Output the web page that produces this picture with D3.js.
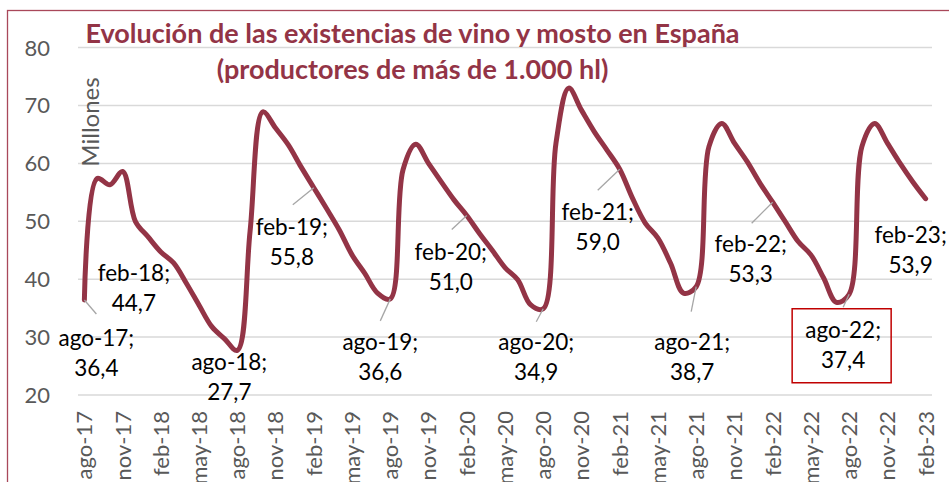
<!DOCTYPE html>
<html>
<head>
<meta charset="utf-8">
<script src="https://cdn.jsdelivr.net/npm/d3@7"></script>
<style>
  body { margin: 0; background: #fff; }
  text { font-family: Lato, "Open Sans", sans-serif; }
</style>
</head>
<body>
<div id="chart"></div>
<script>
const categories = [
  "ago-17","sep-17","oct-17","nov-17","dic-17","ene-18","feb-18","mar-18","abr-18","may-18","jun-18","jul-18",
  "ago-18","sep-18","oct-18","nov-18","dic-18","ene-19","feb-19","mar-19","abr-19","may-19","jun-19","jul-19",
  "ago-19","sep-19","oct-19","nov-19","dic-19","ene-20","feb-20","mar-20","abr-20","may-20","jun-20","jul-20",
  "ago-20","sep-20","oct-20","nov-20","dic-20","ene-21","feb-21","mar-21","abr-21","may-21","jun-21","jul-21",
  "ago-21","sep-21","oct-21","nov-21","dic-21","ene-22","feb-22","mar-22","abr-22","may-22","jun-22","jul-22",
  "ago-22","sep-22","oct-22","nov-22","dic-22","ene-23","feb-23"
];
const existencias = [
  36.4, 57.4, 56.3, 58.6, 50.0, 47.3, 44.7, 42.8, 39.3, 35.5, 31.8, 29.7,
  27.7, 48.3, 68.9, 66.1, 63.2, 59.4, 55.8, 52.2, 48.5, 44.2, 41.0, 37.6,
  36.6, 58.9, 63.3, 60.0, 56.8, 53.7, 51.0, 47.9, 45.0, 42.0, 39.9, 35.6,
  34.9, 63.5, 73.0, 69.2, 65.5, 62.3, 59.0, 54.0, 49.7, 47.1, 42.7, 37.6,
  38.7, 62.9, 66.9, 63.5, 60.3, 56.6, 53.3, 49.9, 46.5, 44.2, 40.2, 36.0,
  37.4, 62.9, 66.9, 63.5, 60.0, 56.8, 53.9
];
const yTicks = [20, 30, 40, 50, 60, 70, 80];
const labelledMonths = ["ago-17","feb-18","ago-18","feb-19","ago-19","feb-20","ago-20","feb-21","ago-21","feb-22","ago-22","feb-23"];
const highlighted = "ago-22";

// label placement relative to the point: [dx, dy of first baseline, leader dx, leader dy]
const labelLayout = {
  "ago-17": [12, 46, 12, 14],
  "feb-18": [-27, 29, null, null],
  "ago-18": [-8, 20, null, null],
  "feb-19": [-22, 47, -21, 17],
  "ago-19": [-10, 51, -10, 22],
  "feb-20": [-16, 44, -15, 14],
  "ago-20": [-7, 41, -7, 13],
  "feb-21": [-22, 51, -22, 21],
  "ago-21": [-4, 63, -5, 25],
  "feb-22": [-22, 50, -21, 21],
  "ago-22": [-6, 44, -6, 13],
  "feb-23": [-15, 44, null, null]
};

const width = 949, height = 482;
const margin = { top: 47.6, right: 17, bottom: 87, left: 78 };
const lineColor = "#933446";
const axisGray = "#595959";

const svg = d3.select("#chart").append("svg")
  .attr("width", width).attr("height", height);

// chart border
svg.append("rect")
  .attr("x", 7.5).attr("y", 10.5)
  .attr("width", width).attr("height", height)
  .attr("fill", "none").attr("stroke", "#A9485A").attr("stroke-width", 1.3);

const x = d3.scaleBand()
  .domain(categories)
  .range([margin.left, width - margin.right]);

const y = d3.scaleLinear()
  .domain([20, 80])
  .range([height - margin.bottom, margin.top]);

const cx = (c) => x(c) + x.bandwidth() / 2;

// gridlines
svg.append("g")
  .selectAll("line")
  .data(yTicks)
  .enter()
  .append("line")
  .attr("x1", margin.left).attr("x2", width - margin.right)
  .attr("y1", (d) => y(d)).attr("y2", (d) => y(d))
  .attr("stroke", "#D9D9D9").attr("stroke-width", 1.5);

// y axis labels
svg.append("g")
  .selectAll("text")
  .data(yTicks)
  .enter()
  .append("text")
  .attr("x", 50)
  .attr("y", (d) => y(d))
  .attr("dy", "0.36em")
  .attr("text-anchor", "end")
  .style("font-size", "22px")
  .style("fill", axisGray)
  .text((d) => d);

// x axis labels, every 3 months
const xTickCats = categories.filter((d, i) => i % 3 === 0);
svg.append("g")
  .selectAll("text")
  .data(xTickCats)
  .enter()
  .append("text")
  .attr("transform", (d) => `translate(${cx(d)},${411}) rotate(-90)`)
  .attr("dy", "0.36em")
  .attr("text-anchor", "end")
  .style("font-size", "22px")
  .style("fill", axisGray)
  .text((d) => d);

// y axis title
svg.append("text")
  .attr("transform", "translate(90,122) rotate(-90)")
  .attr("dy", "0.36em")
  .attr("text-anchor", "middle")
  .style("font-size", "24px")
  .style("fill", axisGray)
  .text("Millones");

// title
const title = svg.append("text")
  .attr("text-anchor", "middle")
  .style("font-size", "27px")
  .style("font-weight", "bold")
  .style("fill", lineColor);
title.append("tspan").attr("x", 412.5).attr("y", 43)
  .text("Evolución de las existencias de vino y mosto en España");
title.append("tspan").attr("x", 412.5).attr("y", 79)
  .text("(productores de más de 1.000 hl)");

// line
const series = categories.map((c, i) => ({ cat: c, value: existencias[i] }));
const line = d3.line()
  .x((d) => cx(d.cat))
  .y((d) => y(d.value))
  .curve(d3.curveCatmullRom.alpha(0.5));

svg.append("path")
  .datum(series)
  .attr("d", line)
  .attr("fill", "none")
  .attr("stroke", lineColor)
  .attr("stroke-width", 5)
  .attr("stroke-linejoin", "round")
  .attr("stroke-linecap", "round");

// data labels
const labelled = series.filter((d) => labelledMonths.includes(d.cat));
const fmt = (v) => v.toFixed(1).replace(".", ",");

svg.append("g")
  .selectAll("line")
  .data(labelled.filter((d) => labelLayout[d.cat][2] !== null))
  .enter()
  .append("line")
  .attr("x1", (d) => cx(d.cat)).attr("y1", (d) => y(d.value))
  .attr("x2", (d) => cx(d.cat) + labelLayout[d.cat][2])
  .attr("y2", (d) => y(d.value) + labelLayout[d.cat][3])
  .attr("stroke", "#A6A6A6").attr("stroke-width", 1.3);

const labels = svg.append("g")
  .selectAll("text")
  .data(labelled)
  .enter()
  .append("text")
  .attr("text-anchor", "middle")
  .style("font-size", "22.5px")
  .style("fill", "#000");

labels.append("tspan")
  .attr("x", (d) => cx(d.cat) + labelLayout[d.cat][0])
  .attr("y", (d) => y(d.value) + labelLayout[d.cat][1])
  .text((d) => d.cat + ";");
labels.append("tspan")
  .attr("x", (d) => cx(d.cat) + labelLayout[d.cat][0])
  .attr("y", (d) => y(d.value) + labelLayout[d.cat][1] + 30)
  .text((d) => fmt(d.value));

// highlight box
const hi = series.find((d) => d.cat === highlighted);
svg.append("rect")
  .attr("x", cx(hi.cat) - 57)
  .attr("y", y(hi.value) + 14.5)
  .attr("width", 99)
  .attr("height", 74)
  .attr("fill", "none")
  .attr("stroke", "#C00000")
  .attr("stroke-width", 1.5);
</script>
</body>
</html>
